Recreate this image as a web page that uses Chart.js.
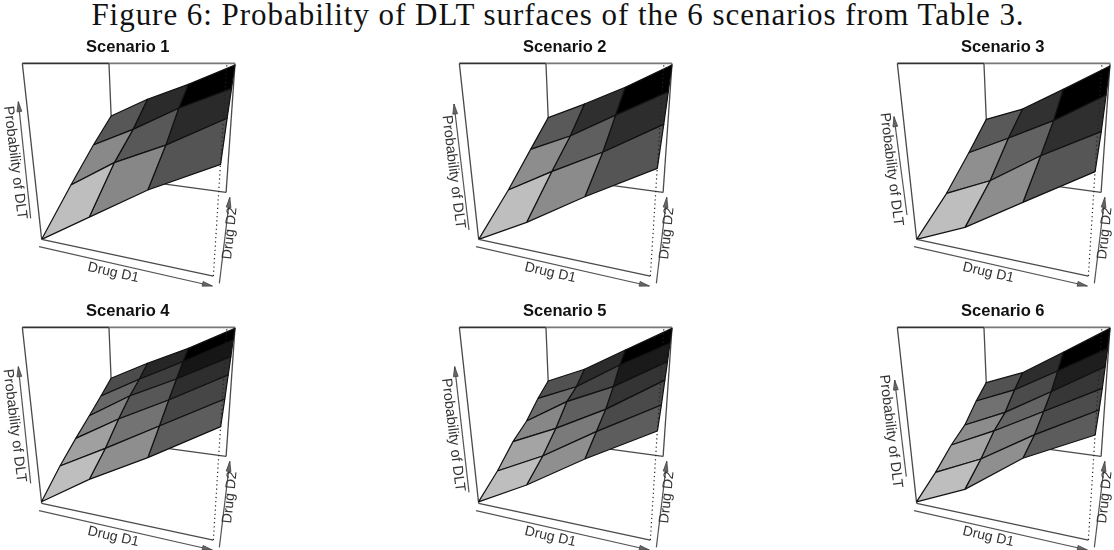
<!DOCTYPE html>
<html><head><meta charset="utf-8">
<script src="https://cdn.jsdelivr.net/npm/chart.js@4/dist/chart.umd.js"></script>
<style>
html,body{margin:0;padding:0;background:#fff;overflow:hidden;width:1114px;height:550px}
#cap{position:absolute;left:1px;top:-3px;width:1114px;text-align:center;font:31px "Liberation Serif",serif;letter-spacing:.96px;color:#111;white-space:nowrap}
canvas{position:absolute;filter:blur(.4px)}
</style></head><body>
<div id="cap">Figure 6: Probability of DLT surfaces of the 6 scenarios from Table 3.</div>
<script>
const scenarioNames=["Scenario 1","Scenario 2","Scenario 3","Scenario 4","Scenario 5","Scenario 6"];
const d1Levels=[0,1/3,2/3,1];
const d2LevelsTop=[0,1/3,2/3,1];
const d2LevelsBottom=[0,.2,.4,.6,.8,1];
// probability of DLT: one row per D2 level, one column per D1 level
const scenario1=[[0,.205,.41,.578],[.202,.399,.543,.72],[.392,.539,.708,.849],[.56,.717,.844,.989]];
const scenario2=[[0,.174,.375,.56],[.165,.339,.5,.687],[.357,.49,.662,.829],[.546,.678,.822,.989]];
const scenario3=[[0,.144,.345,.545],[.141,.278,.479,.648],[.33,.473,.624,.808],[.531,.637,.806,.982]];
const scenario4=[[.01,.215,.391,.586],[.141,.309,.485,.661],[.253,.428,.581,.748],[.358,.535,.674,.829],[.464,.619,.764,.919],[.575,.717,.844,.993]];
const scenario5=[[.01,.182,.384,.566],[.106,.26,.453,.631],[.229,.365,.523,.72],[.316,.494,.623,.799],[.445,.562,.741,.898],[.552,.668,.832,.993]];
const scenario6=[[.01,.156,.388,.548],[.097,.241,.434,.605],[.204,.347,.51,.674],[.285,.416,.589,.768],[.423,.537,.698,.865],[.537,.64,.814,.993]];
const scenarios=[scenario1,scenario2,scenario3,scenario4,scenario5,scenario6];

const panelLeft=[0,437,874.5,0,437,874.5];
const panelTop=[30,30,30,294,294,294];
// left-hand arrow (start, end) and its label centre, per panel
const zArrow=[[92,565,55,215],[96,600,51,222],[96,555,57,260],[92,568,55,218],[96,595,53,218],[94,548,59,258]];
const zLabel=[[45,398],[49,426],[49,418],[43,395],[48,423],[47,412]];

// perspective of the box, unit cube -> panel pixels
function project(x,y,z){
  const w=1-.1846*x+.548*y-.1389*z;
  const X=(396.9*x+402.9*y-67.3*z+5.9*x*z+125)/w;
  const Y=(-18.46*x+54.8*y-541.7*z+628)/w;
  return {x:X/3,y:Y/3};
}
const add=(p,dx,dy)=>({x:p.x+dx/3,y:p.y+dy/3});
const line=(pts,color,width,extra)=>Object.assign({data:pts,showLine:true,pointRadius:0,borderColor:color,borderWidth:width,fill:false,tension:0,clip:false},extra||{});
function head(a,b){
  const L=Math.hypot(b.x-a.x,b.y-a.y),ux=(b.x-a.x)/L,uy=(b.y-a.y)/L,l=10,h=2.4;
  const p1={x:b.x-ux*l-uy*h,y:b.y-uy*l+ux*h},p2={x:b.x-ux*l+uy*h,y:b.y-uy*l-ux*h};
  return line([p1,b,p2,p1],"#444",.8,{fill:'shape',backgroundColor:"#666"});
}
const textPlugin={id:'panelText',afterDraw(c,_,o){
  const g=c.ctx;
  const put=(t,x,y,rot,font,col)=>{g.save();g.translate(x,y);g.rotate(rot*Math.PI/180);g.font=font;g.fillStyle=col;g.textAlign='center';g.textBaseline='middle';g.fillText(t,0,0);g.restore();};
  put(o.name,127.8,17.5,0,'bold 16.5px "Liberation Sans"','#111');
  put("Drug D1",340/3,728/3,12.8,'14px "Liberation Sans"','#333');
  put("Drug D2",690/3,610/3,-84,'14px "Liberation Sans"','#333');
  put("Probability of DLT",o.zl[0]/3,o.zl[1]/3,83,'14.5px "Liberation Sans"','#333');
}};
scenarios.forEach((grid,k)=>{
  const cv=document.createElement('canvas');
  cv.style.left=panelLeft[k]+'px';cv.style.top=panelTop[k]+'px';
  cv.style.width='245px';cv.style.height='263px';cv.width=245;cv.height=263;
  document.body.appendChild(cv);
  const d2Levels=grid.length===4?d2LevelsTop:d2LevelsBottom;
  const A=project(0,0,0),B=add(project(1,0,0),0,-9.5),C=project(0,1,0),D=project(1,1,0),E=project(0,0,1),F=project(0,1,1),G=project(1,1,1),H=project(1,0,1);
  const frame="#4a4a4a";
  const ds=[];
  ds.push(line([F,C],frame,1.3),line([C,D],frame,1.3),line([D,G],frame,1.3));
  ds.push(line([A,E],frame,1.3),line([E,F],"#333",1.6),line([F,G],"#777",1.8));
  const means=[];
  for(let j=0;j<grid.length-1;j++)for(let i=0;i<3;i++)means.push((grid[j][i]+grid[j][i+1]+grid[j+1][i]+grid[j+1][i+1])/4);
  const lo=Math.min(...means),hi=Math.max(...means);
  for(let j=grid.length-2;j>=0;j--)for(let i=2;i>=0;i--){
    const n=(a,b)=>project(d1Levels[a],d2Levels[b],grid[b][a]);
    const m=(grid[j][i]+grid[j][i+1]+grid[j+1][i]+grid[j+1][i+1])/4;
    const v=Math.round(190*(1-(m-lo)/(hi-lo)));
    ds.push(line([n(i,j),n(i+1,j),n(i+1,j+1),n(i,j+1),n(i,j)],"#111",1.2,{fill:'shape',backgroundColor:`rgb(${v},${v},${v})`,borderJoinStyle:'round'}));
  }
  ds.push(line([A,B],frame,1.3));
  ds.push(line([B,H],"#222",1.2,{borderDash:[1.2,3]}));
  // axis arrows
  const a1=add(A,-8,22),b1=add(B,-3,30);
  ds.push(line([a1,b1],"#555",1.2),head(a1,b1));
  const a2=add(B,18,22),b2=add(D,11,15);
  ds.push(line([a2,b2],"#555",1.2),head(a2,b2));
  const z=zArrow[k],a3={x:z[0]/3,y:z[1]/3},b3={x:z[2]/3,y:z[3]/3};
  ds.push(line([a3,b3],"#555",1.2),head(a3,b3));
  new Chart(cv,{type:'scatter',data:{datasets:ds.reverse()},plugins:[textPlugin],options:{
    responsive:false,animation:false,devicePixelRatio:1,
    layout:{padding:0},
    scales:{x:{type:'linear',display:false,min:0,max:245},y:{type:'linear',display:false,min:0,max:263,reverse:true}},
    plugins:{legend:{display:false},tooltip:{enabled:false},panelText:{name:scenarioNames[k],zl:zLabel[k]}}
  }});
});
</script></body></html>
